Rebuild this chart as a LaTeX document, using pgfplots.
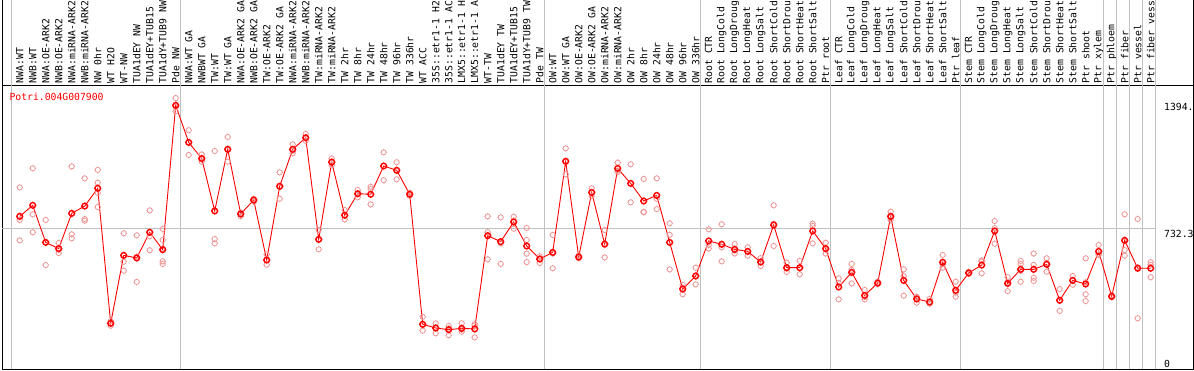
\documentclass[border=0pt]{standalone}
\usepackage{pgfplots}
\pgfplotsset{compat=1.18}
\usepackage{pgfplotstable}
\usepackage{fontspec}
\newfontfamily\monof{DejaVu Sans Mono}
\newcommand\lbl{\monof\fontsize{9.8}{10}\selectfont}
\definecolor{mred}{RGB}{255,0,0}
\definecolor{pred}{RGB}{238,150,150}
\definecolor{sepgray}{RGB}{192,192,192}

\pgfdeclareplotmark{tcirc}{%
  \pgfpathcircle{\pgfpointorigin}{\pgfplotmarksize}%
  \pgfpathmoveto{\pgfqpoint{\pgfplotmarksize}{0pt}}\pgfpathlineto{\pgfqpoint{1.3\pgfplotmarksize}{0pt}}%
  \pgfpathmoveto{\pgfqpoint{-\pgfplotmarksize}{0pt}}\pgfpathlineto{\pgfqpoint{-1.3\pgfplotmarksize}{0pt}}%
  \pgfpathmoveto{\pgfqpoint{0pt}{\pgfplotmarksize}}\pgfpathlineto{\pgfqpoint{0pt}{1.3\pgfplotmarksize}}%
  \pgfpathmoveto{\pgfqpoint{0pt}{-\pgfplotmarksize}}\pgfpathlineto{\pgfqpoint{0pt}{-1.3\pgfplotmarksize}}%
  \pgfusepathqstroke}

\pgfplotstableread{
x y
0 799
1 858
2 660
3 627
4 815
5 854
6 949
7 228
8 591
9 577
10 714
11 621
12 1392
13 1194
14 1108
15 828
16 1157
17 812
18 886
19 566
20 960
21 1157
22 1219
23 676
24 1089
25 805
26 920
27 917
28 1068
29 1045
30 917
31 223
32 203
33 194
34 201
35 198
36 696
37 664
38 769
39 641
40 571
41 607
42 1093
43 582
44 927
45 651
46 1055
47 975
48 881
49 911
50 660
51 411
52 481
53 668
54 650
55 623
56 612
57 555
58 753
59 525
60 525
61 721
62 627
63 422
64 500
65 377
66 443
67 799
68 457
69 358
70 342
71 554
72 404
73 497
74 539
75 721
76 441
77 516
78 516
79 543
80 351
81 457
82 438
83 612
84 372
85 671
86 522
87 522
}\means

\pgfplotstableread{
x y
0 954
0 780
0 671
1 1056
1 810
1 714
2 780
2 660
2 539
3 657
3 620
3 603
4 1066
4 703
4 682
5 1002
5 785
5 776
6 1047
6 979
6 924
6 849
7 240
7 228
7 215
8 709
8 557
8 509
9 698
9 449
9 584
10 831
10 693
10 618
11 732
11 673
11 627
11 559
11 545
12 1431
12 1385
12 1360
13 1259
13 1127
13 1194
14 1130
14 1104
14 1091
15 1148
15 678
15 655
16 1223
16 1091
16 1157
17 820
17 812
17 800
18 893
18 877
18 886
19 596
19 541
19 566
20 1034
20 893
20 955
21 1184
21 1136
21 1150
22 1239
22 1202
22 1219
23 726
23 623
23 676
24 1108
24 1072
24 1089
25 833
25 783
25 805
26 940
26 901
26 920
27 957
27 945
27 863
28 1141
28 992
28 1068
29 1088
29 997
29 1045
30 925
30 908
30 917
31 263
31 189
31 218
32 228
32 175
32 205
33 214
33 164
33 200
34 228
34 183
34 195
35 224
35 153
35 215
36 799
36 570
36 715
37 794
37 545
37 655
38 797
38 733
38 777
39 737
39 673
39 555
39 600
40 586
40 550
40 575
41 700
41 522
41 600
42 1162
42 1024
42 1093
43 590
43 575
43 582
44 949
44 908
44 925
45 726
45 580
45 647
46 1086
46 1036
46 1043
47 1077
47 874
48 999
48 823
48 821
49 1002
49 838
49 893
50 762
50 700
50 516
51 433
51 383
51 417
52 525
52 436
52 481
53 730
53 628
53 646
54 757
54 559
54 634
55 651
55 601
55 617
56 634
56 589
56 613
57 534
57 555
57 576
58 858
58 641
58 760
59 552
59 502
59 521
60 561
60 490
60 524
61 760
61 655
61 748
62 658
62 601
62 622
63 468
63 356
63 442
64 545
64 441
64 514
65 406
65 356
65 369
66 450
66 437
66 442
67 824
67 780
67 793
68 516
68 375
68 480
69 370
69 338
69 366
70 358
70 334
70 334
71 593
71 525
71 544
72 450
72 370
72 392
73 503
73 492
73 496
74 564
74 495
74 558
75 774
75 653
75 736
76 475
76 400
76 448
77 561
77 545
77 450
77 508
78 601
78 540
78 471
78 454
79 575
79 504
79 550
80 411
80 294
80 348
81 481
81 434
81 456
82 575
82 383
82 347
82 447
83 646
83 593
83 597
84 377
84 367
84 372
85 810
85 619
85 589
85 666
86 785
86 255
86 526
87 554
87 540
87 474
}\reps

\begin{document}
\begin{tikzpicture}
\begin{axis}[
  scale only axis, width=1191bp, height=284bp,
  xmin=-1.34, xmax=90.28, ymin=-16, ymax=1500.5,
  clip=false,
  axis line style={black, line width=0.9bp},
  xtick={0,...,87},
  xticklabels={NWA:WT,NWB:WT,NWA:OE-ARK2,NWB:OE-ARK2,NWA:miRNA-ARK2,NWB:miRNA-ARK2,NW 0hr,WT H2O,WT-NW,TUA1dEY NW,TUA1dEY+TUB15,TUA1dY+TUB9 NW,Pde NW,
    NWA:WT GA,NWBWT GA,TW:WT,TW:WT GA,NWA:OE-ARK2 GA,NWB:OE-ARK2 GA,TW:OE-ARK2,TW:OE-ARK2 GA,NWA:miRNA-ARK2,NWB:miRNA-ARK2,TW:miRNA-ARK2,TW:miRNA-ARK2,TW 2hr,TW 8hr,TW 24hr,TW 48hr,TW 96hr,TW 336hr,WT ACC,35S::etr1-1 H2,35S::etr1-1 AC,LMX5::etr1-1 H,LMX5::etr1-1 A,WT-TW,TUA1dEY TW,TUA1dEY+TUB15,TUA1dY+TUB9 TW,Pde TW,
    OW:WT,OW:WT GA,OW:OE-ARK2,OW:OE-ARK2 GA,OW:miRNA-ARK2,OW:miRNA-ARK2,OW 2hr,OW 8hr,OW 24hr,OW 48hr,OW 96hr,OW 336hr,
    Root CTR,Root LongCold,Root LongDroug,Root LongHeat,Root LongSalt,Root ShortCold,Root ShortDrou,Root ShortHeat,Root ShortSalt,Ptr root,
    Leaf CTR,Leaf LongCold,Leaf LongDroug,Leaf LongHeat,Leaf LongSalt,Leaf ShortCold,Leaf ShortDrou,Leaf ShortHeat,Leaf ShortSalt,Ptr leaf,
    Stem CTR,Stem LongCold,Stem LongDroug,Stem LongHeat,Stem LongSalt,Stem ShortCold,Stem ShortDrou,Stem ShortHeat,Stem ShortSalt,Ptr shoot,Ptr xylem,
    Ptr phloem,Ptr fiber,Ptr vessel,Ptr fiber vess},
  xticklabel pos=upper,
  major tick length=0pt,
  xtick style={draw=none},
  x tick label style={rotate=90, anchor=west, font=\lbl, inner sep=1.5bp},
  ytick=\empty,
]
\draw[sepgray, line width=0.9bp] (axis cs:-1.34,732.3) -- (axis cs:87.36,732.3);
\pgfplotsinvokeforeach{-0.64,12.36,40.36,52.36,62.36,72.36,83.36,84.36,85.36,86.36,87.36}{
  \draw[sepgray, line width=0.9bp] (axis cs:#1,-16) -- ([yshift=85bp]axis cs:#1,1500.5);
}
\draw[black, line width=0.9bp] (rel axis cs:0,1) -- ([yshift=85bp]rel axis cs:0,1);
\draw[black, line width=0.9bp] (rel axis cs:1,1) -- ([yshift=85bp]rel axis cs:1,1);

\addplot[only marks, mark=tcirc, mark size=2.6bp, draw=pred, mark options={line width=0.8bp, draw=pred}] table[x=x,y=y] {\reps};
\addplot[mred, line width=0.9bp, mark=tcirc, mark size=2.8bp, mark options={line width=1.4bp, draw=mred}] table[x=x,y=y] {\means};

\node[anchor=north west, inner sep=0pt, font=\lbl, text=mred] at (axis cs:-0.80,1458) {Potri.004G007900};
\node[anchor=north west, inner sep=0pt, font=\lbl] at (axis cs:88.02,1404) {1394.};
\node[anchor=north west, inner sep=0pt, font=\lbl] at (axis cs:88.02,727) {732.3};
\node[anchor=north west, inner sep=0pt, font=\lbl] at (axis cs:88.02,32) {0};

\coordinate (BL) at (rel axis cs:0,0);
\coordinate (TR) at (rel axis cs:1,1);
\end{axis}
\pgfresetboundingbox
\path ([xshift=-2.3bp,yshift=-1bp]BL) rectangle ([xshift=0.7bp,yshift=85bp]TR);
\end{tikzpicture}
\end{document}
